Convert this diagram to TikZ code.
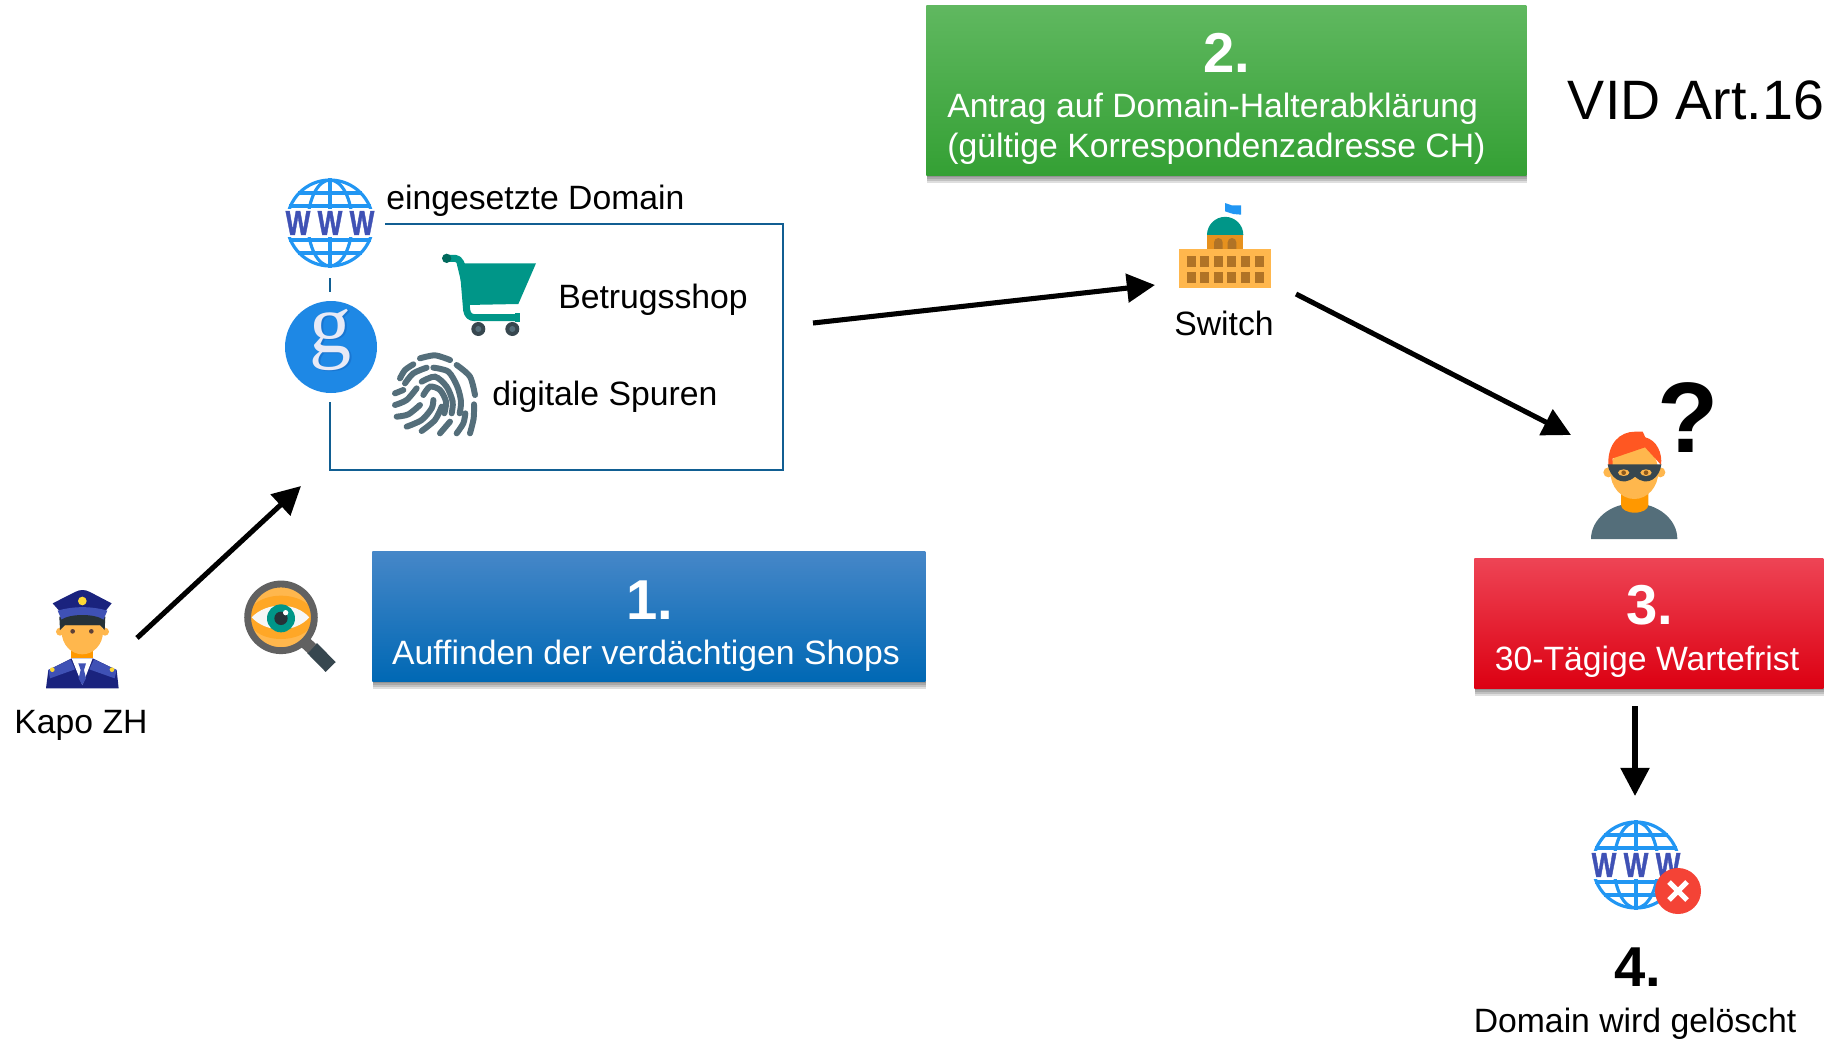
\documentclass[tikz,border=0pt]{standalone}
\usepackage{fontspec}
\setmainfont{Liberation Sans}
\newfontfamily\serifg{Liberation Serif}
\newfontfamily\wwwfont[FakeBold=1.5]{Liberation Sans Bold}
\usetikzlibrary{arrows.meta}
\usetikzlibrary{shadows}

\definecolor{domainblue}{HTML}{115E92}
\definecolor{globeblue}{HTML}{2196F3}
\definecolor{wwwindigo}{HTML}{3F51B5}
\definecolor{tealicon}{HTML}{009688}
\definecolor{tealdark}{HTML}{00695C}
\definecolor{slateicon}{HTML}{546E7A}
\definecolor{darkicon}{HTML}{37474F}
\definecolor{hairicon}{HTML}{263238}
\definecolor{skinicon}{HTML}{FFB74D}
\definecolor{skinshade}{HTML}{FFA726}
\definecolor{neckicon}{HTML}{FF9800}
\definecolor{navyicon}{HTML}{1A237E}
\definecolor{badgeicon}{HTML}{FDD835}
\definecolor{eyeicon}{HTML}{5D4037}
\definecolor{greyicon}{HTML}{616161}
\definecolor{thiefeye}{HTML}{8D5A1E}
\definecolor{hairred}{HTML}{FF5722}
\definecolor{xred}{HTML}{F44336}
\definecolor{googleblue}{HTML}{1E88E5}
\definecolor{googleshade}{HTML}{1976D2}
\definecolor{googleg}{HTML}{E8EAF6}
\definecolor{houselight}{HTML}{FFB74D}
\definecolor{housemid}{HTML}{E6911E}
\definecolor{housedark}{HTML}{B07326}
\definecolor{bluetop}{HTML}{4687C8}
\definecolor{bluemid}{HTML}{0070C0}
\definecolor{bluelow}{HTML}{0068B4}
\definecolor{greentop}{HTML}{60B860}
\definecolor{greenmid}{HTML}{42AA42}
\definecolor{greenlow}{HTML}{34A034}
\definecolor{redtop}{HTML}{EE4455}
\definecolor{redmid}{HTML}{E60012}
\definecolor{redlow}{HTML}{DC0012}

\tikzset{
  bigarrow/.style={line width=2.9pt, -{Triangle[length=16pt,width=16pt]}},
  softshadow/.style={general shadow={shadow xshift=.4pt, shadow yshift=#1, fill=black, opacity=.13}},
  stepbox/.style={anchor=north west, inner sep=0pt, softshadow=-4.2pt, softshadow=-3.2pt, softshadow=-2.2pt, softshadow=-1.2pt},
  steplabel/.style={text=white, font=\fontsize{19.2}{22.7}\selectfont},
  stepnumber/.style={text=white, font=\fontsize{32}{36}\selectfont\bfseries},
  plainlabel/.style={font=\fontsize{19.2}{22.7}\selectfont},
  wwwglobe/.pic={
    \draw [globeblue, line width=1.8pt] (0, 0) circle (43);
    \draw [globeblue, line width=1.8pt] (0, 0) ellipse (22 and 43);
    \draw [globeblue, line width=1.8pt] (0, -45) -- (0, 45);
    \draw [globeblue, line width=1.8pt] (-32, -30) -- (32, -30);
    \draw [globeblue, line width=1.8pt] (-32, 30) -- (32, 30);
    \draw [globeblue, line width=1.8pt] (-41, -17) -- (41, -17);
    \draw [globeblue, line width=1.8pt] (-41, 17) -- (41, 17);
    \fill [white] (-47, -14) rectangle (47, 14);
    \foreach \wx/\wn in {-32/a, 0/b, 32/c}
      \node (-w\wn) [text=wwwindigo, inner sep=0pt, font=\fontsize{19.5}{20}\selectfont\wwwfont] at (\wx, 0) {\scalebox{.76}[1]{W}};
  }
}

\begin{document}
\begin{tikzpicture}[x=0.02cm, y=-0.02cm]
      \useasboundingbox (0, 0) rectangle (1838, 1038);

      % coloured boxes
      \node (boxa) [stepbox, minimum width=11.06cm, minimum height=2.6cm, top color=bluetop, middle color=bluemid, bottom color=bluelow] at (372, 551) {};
      \node (boxb) [stepbox, minimum width=12cm, minimum height=3.4cm, top color=greentop, middle color=greenmid, bottom color=greenlow] at (926, 5) {};
      \node (boxc) [stepbox, minimum width=6.98cm, minimum height=2.6cm, top color=redtop, middle color=redmid, bottom color=redlow] at (1474, 558) {};

      \node (numa) [stepnumber] at (650, 600) {1.};
      \node (texta) [steplabel] at (646, 656) {Auffinden der verdächtigen Shops};
      \node (numb) [stepnumber] at (1227, 53) {2.};
      \node (textb) [steplabel, align=left, anchor=west, inner sep=0pt] at (947, 129) {Antrag auf Domain-Halterabklärung\\(gültige Korrespondenzadresse CH)};
      \node (numc) [stepnumber] at (1650, 605) {3.};
      \node (textc) [steplabel] at (1647, 662) {30-Tägige Wartefrist};

      % domain frame
      \draw [domainblue, line width=1.6pt] (385, 224) -- (783, 224) -- (783, 470) -- (330, 470) -- (330, 402);
      \draw [domainblue, line width=1.6pt] (330, 278) -- (330, 292);

      \pic (globea) at (330, 223) {wwwglobe};
      \node (labeldomain) [plainlabel, anchor=west, inner sep=0pt] at (386, 201) {eingesetzte Domain};
      \node (labelshop) [plainlabel, anchor=west, inner sep=0pt] at (558, 300) {Betrugsshop};
      \node (labeltrace) [plainlabel, anchor=west, inner sep=0pt] at (492, 397) {digitale Spuren};

      % google
      \fill [googleblue] (331, 347) circle (46);
      \node (googleb) [text=googleshade, font=\fontsize{48}{48}\selectfont\serifg] at (333, 341) {g};
      \node (googlea) [text=googleg, font=\fontsize{48}{48}\selectfont\serifg] at (331, 340) {g};

      % cart
      \begin{scope}[shift={(270, 170)}, scale=1/3]
        \draw [tealicon, line width=4pt, line cap=round, line join=round] (530, 265) -- (555, 265) .. controls (570, 265) and (575, 285) .. (580, 300) -- (590, 420) .. controls (592, 435) and (600, 443) .. (615, 443) -- (735, 443);
        \fill [tealicon] (560, 280) -- (798, 280) -- (745, 402) -- (590, 405) -- cycle;
        \fill [tealicon] (735, 430) rectangle (750, 457);
        \fill [tealdark] (530, 265) circle (14);
        \foreach \cx in {625, 727} {
          \fill [darkicon] (\cx, 477) circle (21);
          \fill [slateicon] (\cx, 477) circle (9);
        }
      \end{scope}

      % fingerprint
      \begin{scope}[shift={(385, 345)}, scale=1/3, slateicon, line width=3.4pt, line cap=round]
        \draw plot [smooth] coordinates {(105, 40) (150, 31) (195, 45)};
        \draw plot [smooth] coordinates {(45, 100) (60, 75) (85, 58)};
        \draw plot [smooth] coordinates {(60, 115) (85, 85) (125, 68)};
        \draw plot [smooth] coordinates {(145, 68) (190, 80) (217, 125) (228, 170) (224, 205)};
        \draw plot [smooth] coordinates {(215, 60) (255, 95) (270, 150)};
        \draw plot [smooth] coordinates {(267, 178) (266, 220) (255, 265)};
        \draw plot [smooth] coordinates {(30, 145) (55, 135)};
        \draw plot [smooth] coordinates {(30, 180) (65, 165) (95, 130)};
        \draw plot [smooth] coordinates {(110, 110) (150, 95) (185, 125) (203, 170) (200, 205)};
        \draw plot [smooth] coordinates {(115, 150) (135, 125) (165, 135) (183, 170) (178, 205)};
        \draw plot [smooth] coordinates {(35, 215) (70, 208) (105, 180)};
        \draw plot [smooth] coordinates {(65, 245) (110, 225) (140, 190) (145, 165)};
        \draw plot [smooth] coordinates {(110, 258) (150, 225) (170, 185)};
        \draw plot [smooth] coordinates {(165, 265) (195, 230)};
        \draw plot [smooth] coordinates {(215, 265) (235, 235) (241, 205)};
      \end{scope}

      % police officer
      \begin{scope}[shift={(20, 570)}, scale=1/3]
        \fill [navyicon] (78, 355) -- (85, 300) -- (155, 265) -- (218, 265) -- (290, 300) -- (296, 355) -- cycle;
        \fill [wwwindigo] (85, 300) -- (152, 268) -- (165, 298) -- (90, 325) -- cycle;
        \fill [wwwindigo] (290, 300) -- (222, 268) -- (208, 298) -- (284, 325) -- cycle;
        \fill [white] (155, 265) -- (218, 265) -- (187, 345) -- cycle;
        \fill [wwwindigo] (175, 280) -- (198, 280) -- (192, 300) -- (198, 325) -- (187, 345) -- (176, 325) -- (182, 300) -- cycle;
        \fill [neckicon] (152, 225) rectangle (220, 265);
        \fill [skinicon] (120, 185) circle (12);
        \fill [skinicon] (255, 185) circle (12);
        \fill [skinicon] (187, 185) ellipse (62 and 68);
        \fill [hairicon] (120, 180) -- (118, 140) -- (256, 140) -- (254, 180) -- (240, 165) -- (135, 165) -- cycle;
        \fill [navyicon] (98, 100) -- (165, 66) .. controls (180, 58) and (195, 58) .. (210, 66) -- (275, 100) -- (255, 125) -- (120, 125) -- cycle;
        \fill [wwwindigo] (113, 122) .. controls (160, 108) and (215, 108) .. (262, 122) -- (250, 150) -- (125, 150) -- cycle;
        \fill [hairicon] (122, 150) .. controls (150, 130) and (225, 130) .. (252, 150) -- (240, 165) -- (135, 165) -- cycle;
        \fill [badgeicon] (187, 93) circle (13);
        \fill [eyeicon] (158, 184) circle (7);
        \fill [eyeicon] (214, 184) circle (7);
        \fill [badgeicon] (97, 299) circle (7);
        \fill [badgeicon] (276, 299) circle (7);
      \end{scope}
      \node (labelkapo) [plainlabel] at (81, 725) {Kapo ZH};

      % magnifier
      \begin{scope}[shift={(20, 570)}, scale=1/3]
        \draw [darkicon, line width=8pt] (876, 234) -- (932, 291);
        \draw [greyicon, line width=7pt] (850, 212) -- (876, 236);
        \fill [skinicon] (783, 142) circle (100);
        \fill [skinshade] (783, 142) ellipse (100 and 65);
        \draw [greyicon, line width=3.9pt] (783, 142) circle (100);
        \fill [white!97!black] (695, 142) .. controls (740, 95) and (825, 95) .. (868, 142) .. controls (825, 190) and (740, 190) .. (695, 142) -- cycle;
        \fill [tealicon] (783, 145) circle (42);
        \fill [hairicon] (783, 145) circle (20);
        \fill [white] (797, 128) circle (8);
      \end{scope}

      % switch building
      \begin{scope}[shift={(1130, 190)}, scale=1/3]
        \fill [tealicon] (231, 135) arc (180:360:54.5);
        \fill [housemid] (231, 135) rectangle (340, 177);
        \foreach \dx in {265, 306}
          \fill [housedark] (\dx-13, 177) -- (\dx-13, 157) arc (180:360:13) -- (\dx+13, 177) -- cycle;
        \fill [houselight] (148, 177) rectangle (423, 293);
        \foreach \wx in {170, 211, 252, 292, 333, 374}
          \foreach \wy in {197, 245}
            \fill [housedark] (\wx, \wy) rectangle ++(27, 35);
        \fill [globeblue] (285, 39) -- (305, 46) -- (333, 46) -- (333, 74) -- (310, 72) -- (285, 64) -- cycle;
      \end{scope}
      \node (labelswitch) [plainlabel] at (1224, 323) {Switch};

      % thief
      \begin{scope}[shift={(1520, 360)}, scale=1/3]
        \fill [slateicon] (213, 537) arc (180:360:129.5 and 107) -- cycle;
        \fill [neckicon] (303, 395) -- (385, 395) -- (385, 435) arc (0:180:41 and 23) -- cycle;
        \fill [skinicon] (265, 337) circle (15);
        \fill [skinicon] (421, 337) circle (15);
        \fill [skinicon] (343, 335) ellipse (72 and 82);
        \fill [hairred] (265, 315) .. controls (262, 250) and (300, 215) .. (345, 215) -- (368, 215) -- (376, 232) .. controls (410, 240) and (428, 280) .. (423, 315) -- (410, 300) -- (375, 262) -- (278, 295) -- (278, 315) -- cycle;
        \fill [darkicon] (263, 313) -- (424, 313) .. controls (420, 350) and (385, 385) .. (345, 350) .. controls (305, 385) and (268, 350) .. (263, 313) -- cycle;
        \fill [skinicon] (311, 338) ellipse (17 and 10);
        \fill [skinicon] (378, 338) ellipse (17 and 10);
        \fill [thiefeye] (311, 338) circle (7);
        \fill [thiefeye] (378, 338) circle (7);
      \end{scope}
      \node (labelquestion) [font=\fontsize{57}{57}\selectfont\bfseries] at (1688, 418) {?};

      % deleted domain
      \pic (globeb) at (1636, 865) {wwwglobe};
      \fill [xred] (1678, 891) circle (23);
      \draw [white, line width=2.9pt] (1669, 882) -- (1687, 900);
      \draw [white, line width=2.9pt] (1687, 882) -- (1669, 900);
      \node (numd) [font=\fontsize{32}{36}\selectfont\bfseries] at (1638, 967) {4.};
      \node (labeldeleted) [plainlabel] at (1635, 1024) {Domain wird gelöscht};

      \node (labelvid) [font=\fontsize{31.6}{36}\selectfont] at (1696, 100) {VID Art.16};

      % arrows
      \coordinate (kapoout) at (137, 638);
      \coordinate (framein) at (301, 486);
      \coordinate (frameout) at (813, 323);
      \coordinate (switchin) at (1155, 285);
      \coordinate (switchout) at (1296, 294);
      \coordinate (thiefin) at (1571, 435);
      \coordinate (waitout) at (1635, 706);
      \coordinate (deletein) at (1635, 796);
      \draw [bigarrow] (kapoout) -- (framein);
      \draw [bigarrow] (frameout) -- (switchin);
      \draw [bigarrow] (switchout) -- (thiefin);
      \draw [bigarrow] (waitout) -- (deletein);
    \end{tikzpicture}
\end{document}
